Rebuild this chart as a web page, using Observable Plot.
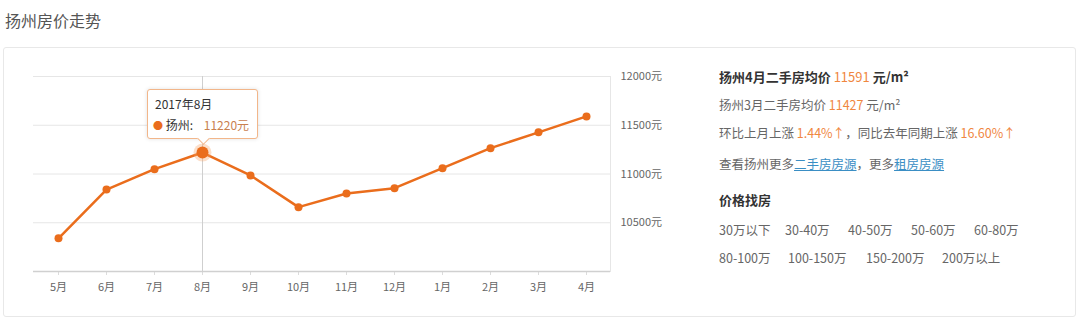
<!DOCTYPE html>
<html lang="zh-CN">
<head>
<meta charset="utf-8">
<script src="https://cdn.jsdelivr.net/npm/d3@7"></script>
<script src="https://cdn.jsdelivr.net/npm/@observablehq/plot@0.6"></script>
<style>
  body { margin:0; background:#fff; font-family:"Noto Sans CJK SC","Noto Sans",sans-serif; }
  .abs { position:absolute; white-space:nowrap; }
  #title { left:5px; top:8px; font-size:16px; color:#555; line-height:24px; }
  #panel { left:3px; top:47px; width:1073px; height:270px; border:1px solid #e8e8e8; border-radius:3px; box-sizing:border-box; }
  .info { font-size:12.5px; color:#666; line-height:20px; }
  .strong { color:#333; font-weight:bold; font-size:13px; }
  .num { color:#f0873f; }
  .lnk { color:#3a8ec4; text-decoration:underline; }
  .price { font-size:12.5px; color:#666; line-height:20px; }
  #tip { background:#fff; border:1px solid #f2b68a; border-radius:3px; box-shadow:0 0 4px rgba(0,0,0,0.12); font-size:12px; color:#333; box-sizing:border-box; }
  #tip .arrow { position:absolute; width:8px; height:8px; background:#fff; border-right:1px solid #f2b68a; border-bottom:1px solid #f2b68a; transform:rotate(45deg); left:50%; margin-left:-4px; bottom:-5px; }
</style>
</head>
<body>
<div id="title" class="abs">扬州房价走势</div>
<div id="panel" class="abs"></div>
<div id="chart" class="abs" style="left:0;top:50px"></div>

<div class="abs info strong" style="left:719px;top:67px">扬州4月二手房均价 <span class="num" style="font-weight:normal">11591</span> 元/m²</div>
<div class="abs info" style="left:719px;top:95px">扬州3月二手房均价 <span class="num">11427</span> 元/m²</div>
<div class="abs info" style="left:719px;top:123px">环比上月上涨 <span class="num">1.44%↑</span>，同比去年同期上涨 <span class="num">16.60%↑</span></div>
<div class="abs info" style="left:719px;top:154px">查看扬州更多<span class="lnk">二手房房源</span>，更多<span class="lnk">租房房源</span></div>
<div class="abs info strong" style="left:719px;top:190px">价格找房</div>
<div id="prices"></div>

<script>
const months = ["5月","6月","7月","8月","9月","10月","11月","12月","1月","2月","3月","4月"];
const prices = [10340, 10840, 11050, 11220, 10985, 10660, 10800, 10855, 11060, 11265, 11427, 11591];
const yTicks = [10500, 11000, 11500, 12000];
const highlightMonth = "8月";
const highlightLabel = "2017年8月";
const cityName = "扬州";
const priceRow1 = ["30万以下","30-40万","40-50万","50-60万","60-80万"];
const priceRow2 = ["80-100万","100-150万","150-200万","200万以上"];

const lineColor = "#ea6d1c";
const data = months.map((m, i) => ({month: m, price: prices[i]}));
const hi = data.filter(d => d.month === highlightMonth);

const chart = Plot.plot({
  width: 700,
  height: 268,
  marginLeft: 33,
  marginRight: 90,
  marginTop: 26,
  marginBottom: 47,
  x: {type: "point", domain: months, padding: 0.5, label: null},
  y: {domain: [10000, 12000], label: null},
  style: {fontFamily: "'Noto Sans CJK SC','Noto Sans',sans-serif", fontSize: "11px", color: "#666", background: "transparent", overflow: "visible"},
  marks: [
    Plot.ruleY(yTicks, {stroke: "#e6e6e6"}),
    Plot.frame({anchor: "right", stroke: "#e6e6e6"}),
    Plot.ruleX([highlightMonth], {y1: 10000, y2: 12000, stroke: "#cfcfcf"}),
    Plot.axisX({tickSize: 4, tickPadding: 8, stroke: "#dcdcdc", fontSize: 11}),
    Plot.ruleY([10000], {stroke: "#d0d0d0", strokeWidth: 1.5}),
    Plot.axisY({ticks: yTicks, anchor: "right", tickSize: 0, tickPadding: 10, tickFormat: d => d + "元", fontSize: 11}),
    Plot.line(data, {x: "month", y: "price", stroke: lineColor, strokeWidth: 2.5}),
    Plot.dot(data, {x: "month", y: "price", r: 4, fill: lineColor}),
    Plot.dot(hi, {x: "month", y: "price", r: 9, fill: "#f5a466", fillOpacity: 0.35}),
    Plot.dot(hi, {x: "month", y: "price", r: 6, fill: lineColor})
  ]
});
document.getElementById("chart").appendChild(chart);

// tooltip positioned from the library's scales
const sx = chart.scale("x").apply(highlightMonth);
const sy = chart.scale("y").apply(hi[0].price);
const tip = document.createElement("div");
tip.id = "tip";
tip.className = "abs";
const tw = 111, th = 50;
tip.style.left = (sx - 55) + "px";
tip.style.top = (50 + sy - 13 - th) + "px";
tip.style.width = tw + "px";
tip.style.height = th + "px";
tip.innerHTML = `<div class="abs" style="left:7px;top:4px;line-height:20px">${highlightLabel}</div>
<div class="abs" style="left:5px;top:25px;line-height:20px"><span style="color:${lineColor};font-size:10px">●</span> ${cityName}:&nbsp;&nbsp;&nbsp; <span style="color:#c9804f">${hi[0].price}元</span></div>
<div class="arrow"></div>`;
document.body.appendChild(tip);

// price filter links
const row1X = [719, 785, 848, 911, 974];
const row2X = [719, 788, 866, 942];
const pc = document.getElementById("prices");
priceRow1.forEach((t, i) => {
  const d = document.createElement("div");
  d.className = "abs price"; d.style.left = row1X[i] + "px"; d.style.top = "220px"; d.textContent = t; pc.appendChild(d);
});
priceRow2.forEach((t, i) => {
  const d = document.createElement("div");
  d.className = "abs price"; d.style.left = row2X[i] + "px"; d.style.top = "248px"; d.textContent = t; pc.appendChild(d);
});
</script>
</body>
</html>
